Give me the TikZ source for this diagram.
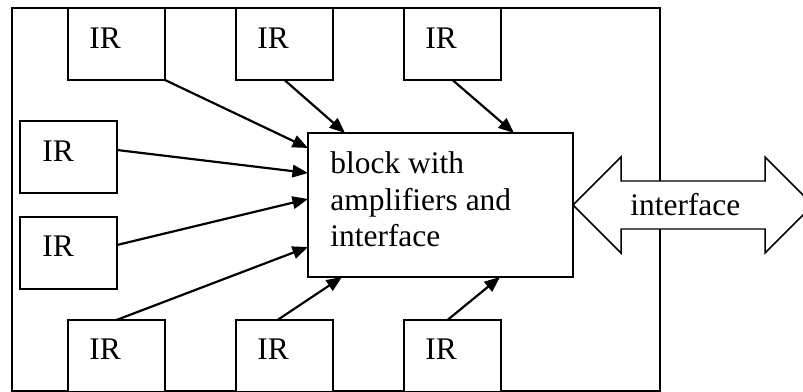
\documentclass[tikz,border=0pt]{standalone}
\usepackage{fontspec}
\setmainfont{Liberation Serif}
\usetikzlibrary{calc,arrows.meta}

\begin{document}
\begin{tikzpicture}[x=0.2mm, y=-0.2mm,
    irbox/.style={draw, line width=0.85pt, fill=white, inner sep=0pt, outer sep=0pt,
      minimum width=19.4mm, minimum height=14.4mm, anchor=north west},
    txt/.style={anchor=base west, inner sep=0pt, font=\fontsize{17.9}{21}\selectfont},
    feed/.style={line width=1.25pt, -{Triangle[length=3.1mm, width=2.5mm]}}]
  % page = 803 x 392 units, y grows downwards
  \useasboundingbox (0,0) rectangle (803,392);
  % housing, its bottom edge sits on the page border
  \draw[line width=0.85pt] (12,8) rectangle (660,391);

  % amplifier / interface block
  \node[irbox, minimum width=53mm, minimum height=28.8mm] (blk) at (308,133) {};
  \node[txt, anchor=north west, align=left] (blk-txt) at (330,151)
    {block with\\amplifiers and\\interface};

  % IR sensors: top row, left column, bottom row
  \node[irbox] (t1) at (68,8) {};
  \node[irbox] (t2) at (236,8) {};
  \node[irbox] (t3) at (404,8) {};
  \node[irbox] (l1) at (20,121) {};
  \node[irbox] (l2) at (20,217) {};
  \node[irbox] (b1) at (68,320) {};
  \node[irbox] (b2) at (236,320) {};
  \node[irbox] (b3) at (404,320) {};
  \node[txt] (t1-txt) at ($(t1.north west)+(21,41)$) {IR};
  \node[txt] (t2-txt) at ($(t2.north west)+(21,41)$) {IR};
  \node[txt] (t3-txt) at ($(t3.north west)+(21,41)$) {IR};
  \node[txt] (l1-txt) at ($(l1.north west)+(22,41)$) {IR};
  \node[txt] (l2-txt) at ($(l2.north west)+(22,40)$) {IR};
  \node[txt] (b1-txt) at ($(b1.north west)+(21,40)$) {IR};
  \node[txt] (b2-txt) at ($(b2.north west)+(21,40)$) {IR};
  \node[txt] (b3-txt) at ($(b3.north west)+(21,40)$) {IR};

  % signal lines into the block
  \draw[feed] (t1.south east) -- ($(blk.north west)+(0,15)$);
  \draw[feed] (t2.south) -- ($(blk.north west)+(37,0)$);
  \draw[feed] (t3.south) -- ($(blk.north west)+(206,0)$);
  \draw[feed] ($(l1.east)+(0,-7)$) -- ($(blk.north west)+(0,40)$);
  \draw[feed] ($(l2.east)+(0,-8)$) -- ($(blk.north west)+(0,66)$);
  \draw[feed] (b1.north) -- ($(blk.south west)+(0,-30)$);
  \draw[feed] ($(b2.north)+(-7,0)$) -- ($(blk.south west)+(34,0)$);
  \draw[feed] ($(b3.north)+(-5,0)$) -- ($(blk.south west)+(192,0)$);

  % two-way interface arrow (right tip runs off the page)
  \draw[line width=0.85pt, fill=white] (blk.east) -- ++(48,-48) -- ++(0,24)
    -- ++(144,0) -- ++(0,-24) -- ++(48,48) -- ++(-48,48) -- ++(0,-24)
    -- ++(-144,0) -- ++(0,24) -- cycle;
  \node[txt] (iface) at (630,216) {interface};
\end{tikzpicture}
\end{document}
